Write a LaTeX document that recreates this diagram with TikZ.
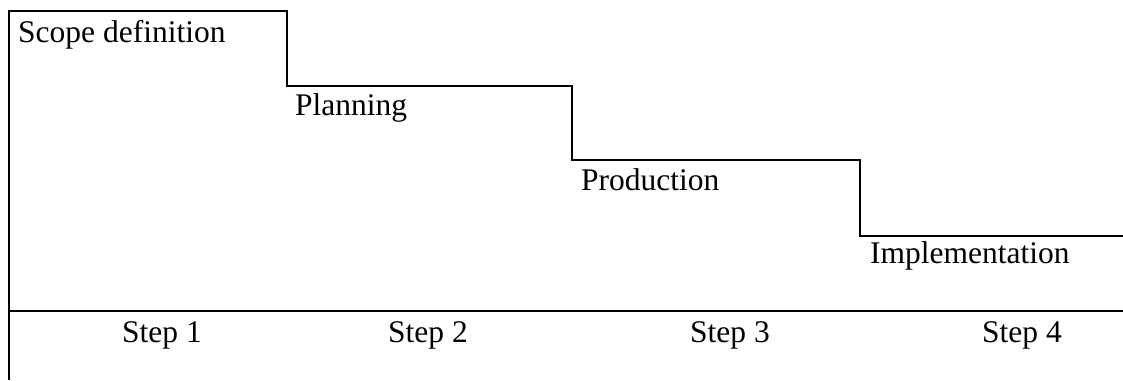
\documentclass[tikz,border=0pt]{standalone}
\usepackage{fontspec}
\setmainfont{Liberation Serif}
\begin{document}
\begin{tikzpicture}[x=1pt,y=-1pt,
  stair/.style={draw=black,line width=2pt},
  phase/.style={anchor=base west,inner sep=0pt,font=\fontsize{31.5}{38}\selectfont},
  steplabel/.style={anchor=base,inner sep=0pt,font=\fontsize{31.5}{38}\selectfont}]
\useasboundingbox (0,0) rectangle (1123,380);
% staircase outline and left axis
\coordinate (top) at (9,11);
\coordinate (bottom) at (9,380);
\coordinate (axisend) at (1123,311);
\coordinate (axisstart) at (9,311);
\coordinate (stairend) at (1123,236);
\draw[stair] (bottom) -- (top) -- (287,11) -- (287,86) -- (572,86) -- (572,160)
  -- (860,160) -- (860,236) -- (stairend);
% step axis
\draw[stair] (axisstart) -- (axisend);
% phase labels
\node[phase] (scope) at (18,42) {Scope definition};
\node[phase] (plan) at (295,115) {Planning};
\node[phase] (prod) at (581,190) {Production};
\node[phase] (impl) at (870,263) {Implementation};
% step labels
\node[steplabel] (s1) at (162,342) {Step 1};
\node[steplabel] (s2) at (428,342) {Step 2};
\node[steplabel] (s3) at (730,342) {Step 3};
\node[steplabel] (s4) at (1022,342) {Step 4};
\end{tikzpicture}
\end{document}
